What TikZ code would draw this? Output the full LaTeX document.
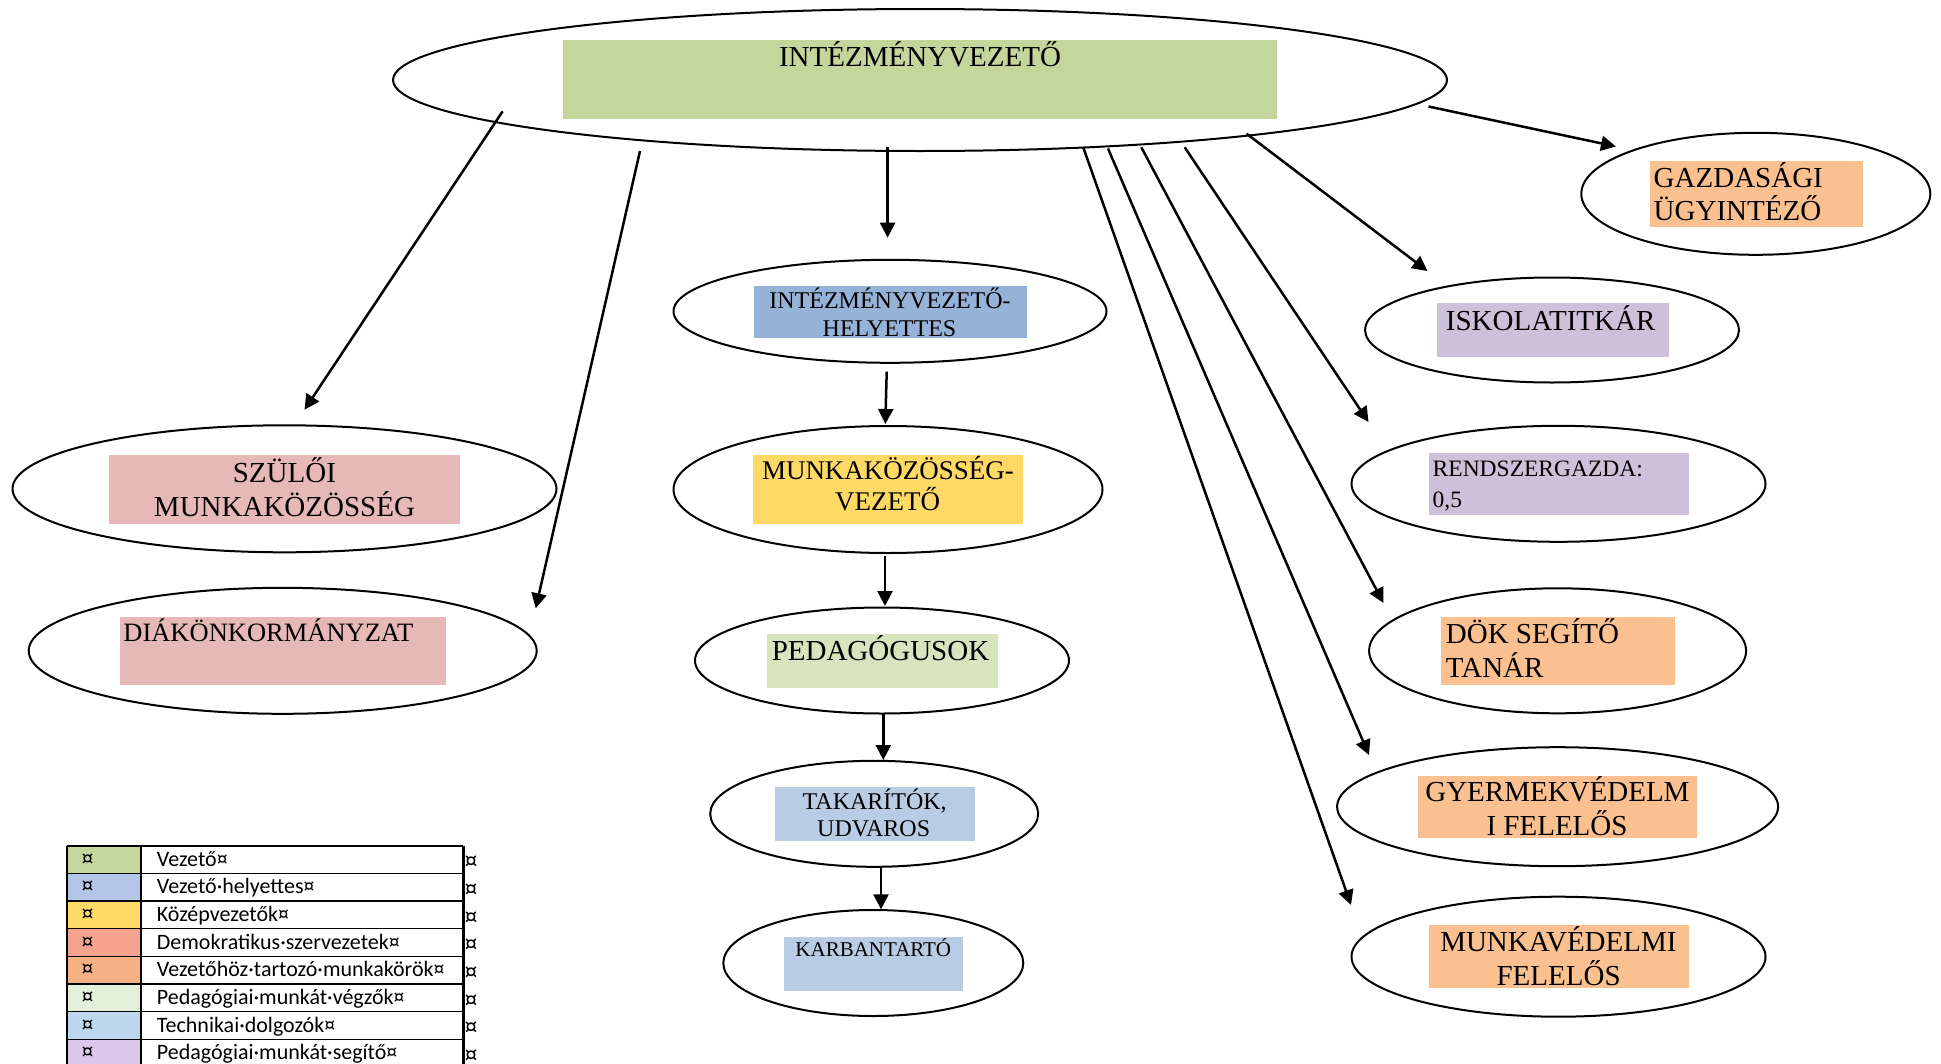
\documentclass[tikz,border=0pt]{standalone}
\usepackage{fontspec}
\setmainfont{Liberation Serif}
\newfontfamily\legendfont{Carlito}
\usetikzlibrary{shapes.geometric,arrows.meta}
\definecolor{cTop}{HTML}{C3D69B}
\definecolor{cHely}{HTML}{95B3D7}
\definecolor{cMunka}{HTML}{FFD966}
\definecolor{cPed}{HTML}{D7E4BD}
\definecolor{cTech}{HTML}{B8CCE4}
\definecolor{cDemo}{HTML}{E6B8B7}
\definecolor{cOrange}{HTML}{FAC090}
\definecolor{cLila}{HTML}{CCC0DA}
\definecolor{lgA}{HTML}{C3D69B}
\definecolor{lgB}{HTML}{B4C6E7}
\definecolor{lgC}{HTML}{FFD966}
\definecolor{lgD}{HTML}{F5A28E}
\definecolor{lgE}{HTML}{F4B183}
\definecolor{lgF}{HTML}{E2EFDA}
\definecolor{lgG}{HTML}{BDD7EE}
\definecolor{lgH}{HTML}{DCC8EC}
\newcommand\setfs[1]{\fontsize{#1}{#1}\selectfont}
\begin{document}
\begin{tikzpicture}[x=1pt,y=-1pt,
  ell/.style={ellipse, draw, fill=white, line width=2pt, inner sep=0pt},
  box/.style={rectangle, inner sep=0pt, anchor=north west, draw=none},
  lbl/.style={anchor=base, inner sep=0pt, text=black},
  lbll/.style={anchor=base west, inner sep=0pt, text=black},
  arr/.style={line width=2.5pt, -{Triangle[length=15pt,width=15pt]}},
  tline/.style={line width=1.6pt}]
\useasboundingbox (0,0) rectangle (1941,1063);
\fill[white] (0,0) rectangle (1941,1063);

% ellipses
\node[ell, minimum width=1054pt, minimum height=142pt] (e0) at (920,80) {};
\node[ell, minimum width=433pt, minimum height=103pt] (e1) at (890,311.3) {};
\node[ell, minimum width=429pt, minimum height=127pt] (e2) at (888,489.5) {};
\node[ell, minimum width=374pt, minimum height=106pt] (e3) at (882,660.5) {};
\node[ell, minimum width=328pt, minimum height=106pt] (e4) at (874.2,813.8) {};
\node[ell, minimum width=300pt, minimum height=106pt] (e5) at (873.3,963) {};
\node[ell, minimum width=544pt, minimum height=127pt] (e6) at (284.5,488.8) {};
\node[ell, minimum width=508pt, minimum height=126pt] (e7) at (282.7,650.8) {};
\node[ell, minimum width=349pt, minimum height=122pt] (e8) at (1755.8,193.8) {};
\node[ell, minimum width=374pt, minimum height=105pt] (e9) at (1552,330) {};
\node[ell, minimum width=414pt, minimum height=116pt] (e10) at (1558.5,483.8) {};
\node[ell, minimum width=377pt, minimum height=125pt] (e11) at (1557.6,650.8) {};
\node[ell, minimum width=441pt, minimum height=119pt] (e12) at (1557.6,806.7) {};
\node[ell, minimum width=414pt, minimum height=120pt] (e13) at (1558.5,956.7) {};

% colour boxes
\node[box, fill=cTop, minimum width=714pt, minimum height=79pt] (r0) at (563,40) {};
\node[box, fill=cHely, minimum width=273pt, minimum height=52pt] (r1) at (754,286) {};
\node[box, fill=cMunka, minimum width=270pt, minimum height=69pt] (r2) at (753,455) {};
\node[box, fill=cPed, minimum width=231pt, minimum height=54pt] (r3) at (767,634) {};
\node[box, fill=cTech, minimum width=200pt, minimum height=54pt] (r4) at (775,787) {};
\node[box, fill=cTech, minimum width=179pt, minimum height=54pt] (r5) at (784,937) {};
\node[box, fill=cDemo, minimum width=351pt, minimum height=69pt] (r6) at (109,455) {};
\node[box, fill=cDemo, minimum width=326pt, minimum height=68pt] (r7) at (120,617) {};
\node[box, fill=cOrange, minimum width=213pt, minimum height=66pt] (r8) at (1650,161) {};
\node[box, fill=cLila, minimum width=232pt, minimum height=54pt] (r9) at (1437,303) {};
\node[box, fill=cLila, minimum width=260pt, minimum height=62pt] (r10) at (1429,453) {};
\node[box, fill=cOrange, minimum width=234pt, minimum height=68pt] (r11) at (1441,617) {};
\node[box, fill=cOrange, minimum width=279pt, minimum height=62pt] (r12) at (1418,776) {};
\node[box, fill=cOrange, minimum width=260pt, minimum height=63pt] (r13) at (1429,925) {};

% texts
\node[lbl, font=\setfs{29}] (t0) at (920,66.7) {INTÉZMÉNYVEZETŐ};
\node[lbl, font=\setfs{24}] (t1a) at (890,308.3) {INTÉZMÉNYVEZETŐ-};
\node[lbl, font=\setfs{24}] (t1b) at (889.5,336) {HELYETTES};
\node[lbl, font=\setfs{27}] (t2a) at (888,479.3) {MUNKAKÖZÖSSÉG-};
\node[lbl, font=\setfs{27}] (t2b) at (887.5,510) {VEZETŐ};
\node[lbl, font=\setfs{29}] (t3) at (880.5,660.7) {PEDAGÓGUSOK};
\node[lbl, font=\setfs{24}] (t4a) at (874.7,809.3) {TAKARÍTÓK,};
\node[lbl, font=\setfs{24}] (t4b) at (873.7,836.7) {UDVAROS};
\node[lbl, font=\setfs{21}] (t5) at (873.3,956.7) {KARBANTARTÓ};
\node[lbl, font=\setfs{29}] (t6a) at (284.4,482.3) {SZÜLŐI};
\node[lbl, font=\setfs{29}] (t6b) at (284.5,516.7) {MUNKAKÖZÖSSÉG};
\node[lbll, font=\setfs{26.5}] (t7) at (123.2,641.7) {DIÁKÖNKORMÁNYZAT};
\node[lbll, font=\setfs{29}] (t8a) at (1653.5,187.3) {GAZDASÁGI};
\node[lbll, font=\setfs{29}] (t8b) at (1653.5,220) {ÜGYINTÉZŐ};
\node[lbll, font=\setfs{29}] (t9) at (1445.7,330) {ISKOLATITKÁR};
\node[lbll, font=\setfs{23.5}] (t10a) at (1432.5,476.7) {RENDSZERGAZDA:};
\node[lbll, font=\setfs{23.5}] (t10b) at (1432.5,507.3) {0,5};
\node[lbll, font=\setfs{29}] (t11a) at (1445.7,643.3) {DÖK SEGÍTŐ};
\node[lbll, font=\setfs{29}] (t11b) at (1445.7,677.3) {TANÁR};
\node[lbl, font=\setfs{29}] (t12a) at (1557.4,801.7) {GYERMEKVÉDELM};
\node[lbl, font=\setfs{29}] (t12b) at (1557,835.7) {I FELELŐS};
\node[lbl, font=\setfs{29}] (t13a) at (1558.4,951.7) {MUNKAVÉDELMI};
\node[lbl, font=\setfs{29}] (t13b) at (1558.6,985.7) {FELELŐS};

% arrow end points
\coordinate (a1s) at (502.6,111.4);  \coordinate (a1e) at (304.5,409.7);
\coordinate (a2s) at (640,151);      \coordinate (a2e) at (535.7,608.3);
\coordinate (a3s) at (887.6,147);    \coordinate (a3e) at (887.6,237.7);
\coordinate (a4s) at (886.7,371.7);  \coordinate (a4e) at (885.3,424);
\coordinate (a5s) at (885,555.8);    \coordinate (a5e) at (885,606);
\coordinate (a6s) at (883.3,713.3);  \coordinate (a6e) at (883.3,760);
\coordinate (a7s) at (881,867.3);    \coordinate (a7e) at (881,909.3);
\coordinate (a8s) at (1428.5,106.5); \coordinate (a8e) at (1616,146.5);
\coordinate (a9s) at (1246.6,133.7); \coordinate (a9e) at (1427.4,271);
\coordinate (a10s) at (1184.7,147.3); \coordinate (a10e) at (1368.5,422);
\coordinate (a11s) at (1141.3,147.3); \coordinate (a11e) at (1383.5,603);
\coordinate (a12s) at (1108,148.5);   \coordinate (a12e) at (1369,755);
\coordinate (a13s) at (1083.2,147.3); \coordinate (a13e) at (1351,905);
\foreach \k in {1,...,13} {\draw[arr] (a\k s) -- (a\k e);}

% legend
\foreach \c/\t [count=\i from 0] in {lgA/Vezető¤, lgB/Vezető·helyettes¤, lgC/Középvezetők¤, lgD/Demokratikus·szervezetek¤, lgE/Vezetőhöz·tartozó·munkakörök¤, lgF/Pedagógiai·munkát·végzők¤, lgG/Technikai·dolgozók¤, lgH/Pedagógiai·munkát·segítő¤} {
  \pgfmathsetmacro\rt{845.7+\i*27.66}
  \fill[\c] (66.7,\rt) rectangle (141,\rt+27.66);
  \draw[tline] (66.7,\rt) -- (463.3,\rt);
  \node[lbl, font=\legendfont\setfs{24}] (lgm\i) at (87.5,\rt+20.5) {¤};
  \node[lbll, font=\legendfont\setfs{22}] (lgt\i) at (156.7,\rt+20.5) {\t};
  \node[lbl, font=\legendfont\setfs{26}] (lge\i) at (471,\rt+24) {¤};
}
\draw[tline] (66.7,845.7) -- (66.7,1070);
\draw[tline] (141,845.7) -- (141,1070);
\draw[line width=2.5pt] (463.3,845.7) -- (463.3,1070);
\end{tikzpicture}
\end{document}
